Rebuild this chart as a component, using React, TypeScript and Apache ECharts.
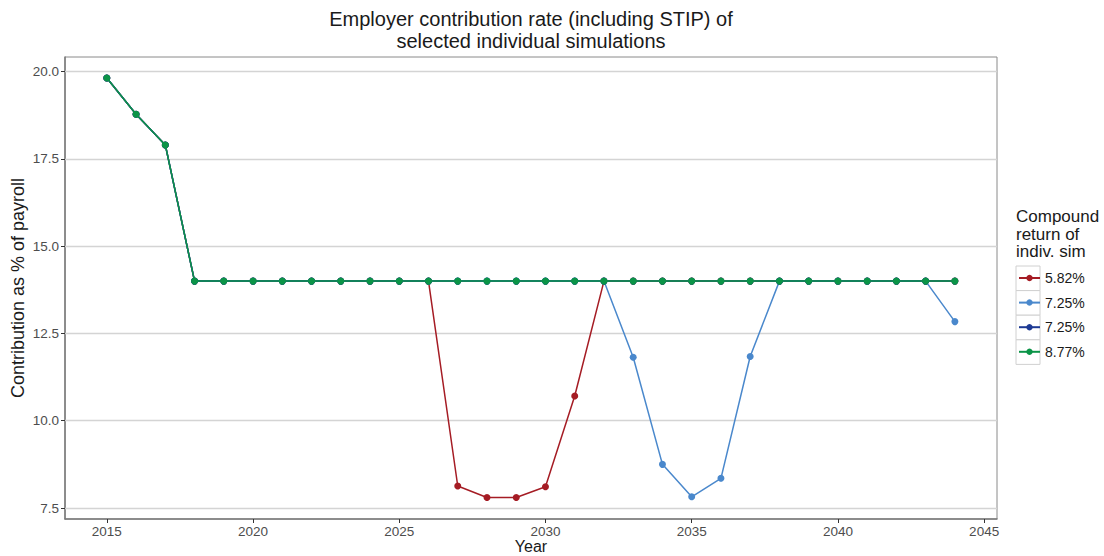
import React, { useEffect, useRef } from "react";
import * as echarts from "echarts";

const YEARS = [
  2015, 2016, 2017, 2018, 2019, 2020, 2021, 2022, 2023, 2024, 2025, 2026, 2027, 2028, 2029,
  2030, 2031, 2032, 2033, 2034, 2035, 2036, 2037, 2038, 2039, 2040, 2041, 2042, 2043, 2044,
];

const SIM_582 = [
  19.82, 18.78, 17.9, 14.0, 14.0, 14.0, 14.0, 14.0, 14.0, 14.0, 14.0, 14.0, 8.13, 7.8, 7.8,
  8.11, 10.71, 14.0, 14.0, 14.0, 14.0, 14.0, 14.0, 14.0, 14.0, 14.0, 14.0, 14.0, 14.0, 14.0,
];
const SIM_725A = [
  19.82, 18.78, 17.9, 14.0, 14.0, 14.0, 14.0, 14.0, 14.0, 14.0, 14.0, 14.0, 14.0, 14.0, 14.0,
  14.0, 14.0, 14.0, 11.82, 8.75, 7.82, 8.35, 11.84, 14.0, 14.0, 14.0, 14.0, 14.0, 14.0, 12.84,
];
const SIM_725B = [
  19.82, 18.78, 17.9, 14.0, 14.0, 14.0, 14.0, 14.0, 14.0, 14.0, 14.0, 14.0, 14.0, 14.0, 14.0,
  14.0, 14.0, 14.0, 14.0, 14.0, 14.0, 14.0, 14.0, 14.0, 14.0, 14.0, 14.0, 14.0, 14.0, 14.0,
];
const SIM_877 = [
  19.82, 18.78, 17.9, 14.0, 14.0, 14.0, 14.0, 14.0, 14.0, 14.0, 14.0, 14.0, 14.0, 14.0, 14.0,
  14.0, 14.0, 14.0, 14.0, 14.0, 14.0, 14.0, 14.0, 14.0, 14.0, 14.0, 14.0, 14.0, 14.0, 14.0,
];

const SERIES_NAMES = ["5.82%", "7.25%", "7.25% ", "8.77%"];
const SERIES_VALUES = [SIM_582, SIM_725A, SIM_725B, SIM_877];
const SERIES_COLORS = ["#a51c24", "#4a88cc", "#1d3a94", "#0b9447"];

const X_TICKS = [2015, 2020, 2025, 2030, 2035, 2040, 2045];
const Y_TICKS = [7.5, 10.0, 12.5, 15.0, 17.5, 20.0];

const TITLE = "Employer contribution rate (including STIP) of\nselected individual simulations";
const LEGEND_TITLE = "Compound\nreturn of\nindiv. sim";

const FONT = "'Liberation Sans', Arial, Helvetica, sans-serif";

export default function App() {
  const ref = useRef<HTMLDivElement>(null);

  useEffect(() => {
    if (!ref.current) return;
    const chart = echarts.init(ref.current, undefined, { renderer: "svg" });

    const series: any[] = SERIES_VALUES.map((vals, i) => ({
      name: SERIES_NAMES[i],
      type: "line",
      data: YEARS.map((y, j) => [y, vals[j]]),
      symbol: "circle",
      symbolSize: 7,
      color: SERIES_COLORS[i],
      lineStyle: { width: 1.5, color: SERIES_COLORS[i] },
      itemStyle: { color: SERIES_COLORS[i] },
      z: 3 + i,
      ...(i === 0
        ? {
            markLine: {
              silent: true,
              symbol: "none",
              label: { show: false },
              lineStyle: { color: "#d4d4d4", width: 1.3, type: "solid" },
              z: 1,
              data: Y_TICKS.map((v) => ({ yAxis: v })),
            },
          }
        : {}),
    }));

    const legendBoxes = SERIES_NAMES.map((_, i) => ({
      type: "rect",
      shape: { x: 1016, y: 266 + i * 24.6, width: 24, height: 24.6 },
      style: { fill: "#ffffff", stroke: "#d0d0d0", lineWidth: 1 },
      z: 0,
    }));

    chart.setOption({
      animation: false,
      backgroundColor: "#ffffff",
      textStyle: { fontFamily: FONT },
      grid: {
        left: 65,
        top: 57,
        right: 107,
        bottom: 37,
        containLabel: false,
        outerBoundsMode: "none",
        show: true,
        borderColor: "#8a8a8a",
        borderWidth: 1,
        backgroundColor: "transparent",
      },
      xAxis: {
        type: "value",
        min: 2013.57,
        max: 2045.44,
        name: "Year",
        nameLocation: "middle",
        nameGap: 19,
        nameMoveOverlap: false,
        nameTextStyle: { fontSize: 16, color: "#1a1a1a", fontFamily: FONT },
        axisLine: { show: true, lineStyle: { color: "#7a7a7a", width: 1.5 } },
        axisTick: {
          show: true,
          length: 4,
          customValues: X_TICKS,
          lineStyle: { color: "#333333", width: 1 },
        },
        axisLabel: {
          customValues: X_TICKS,
          fontSize: 13.5,
          color: "#4d4d4d",
          margin: 5,
          formatter: (v: number) => String(Math.round(v)),
        },
        splitLine: { show: false },
      },
      yAxis: {
        type: "value",
        min: 7.185,
        max: 20.42,
        name: "Contribution as % of payroll",
        nameLocation: "middle",
        nameGap: 38,
        nameMoveOverlap: false,
        nameRotate: 90,
        nameTextStyle: { fontSize: 18, color: "#1a1a1a", fontFamily: FONT },
        axisLine: { show: true, lineStyle: { color: "#7a7a7a", width: 1.5 } },
        axisTick: {
          show: true,
          length: 4,
          customValues: Y_TICKS,
          lineStyle: { color: "#333333", width: 1 },
        },
        axisLabel: {
          customValues: Y_TICKS,
          fontSize: 13.5,
          color: "#4d4d4d",
          margin: 6,
          formatter: (v: number) => v.toFixed(1),
        },
        splitLine: { show: false },
      },
      legend: {
        orient: "vertical",
        left: 1018,
        top: 271,
        itemWidth: 21,
        itemHeight: 8,
        itemGap: 10.6,
        textStyle: { fontSize: 14, color: "#1a1a1a", fontFamily: FONT },
        data: SERIES_NAMES,
        selectedMode: false,
        padding: 0,
      },
      graphic: [
        {
          type: "text",
          x: 531,
          y: 8,
          style: {
            text: TITLE,
            fill: "#1a1a1a",
            font: `20px ${FONT}`,
            textAlign: "center",
            textVerticalAlign: "top",
            lineHeight: 22,
          },
        },
        {
          type: "text",
          x: 1016,
          y: 208,
          style: {
            text: LEGEND_TITLE,
            fill: "#1a1a1a",
            font: `17px ${FONT}`,
            textAlign: "left",
            textVerticalAlign: "top",
            lineHeight: 17.5,
          },
        },
        ...legendBoxes,
      ],
      series,
    });

    return () => chart.dispose();
  }, []);

  return (
    <div
      ref={ref}
      style={{ position: "absolute", left: 0, top: 0, width: 1104, height: 556 }}
    />
  );
}
